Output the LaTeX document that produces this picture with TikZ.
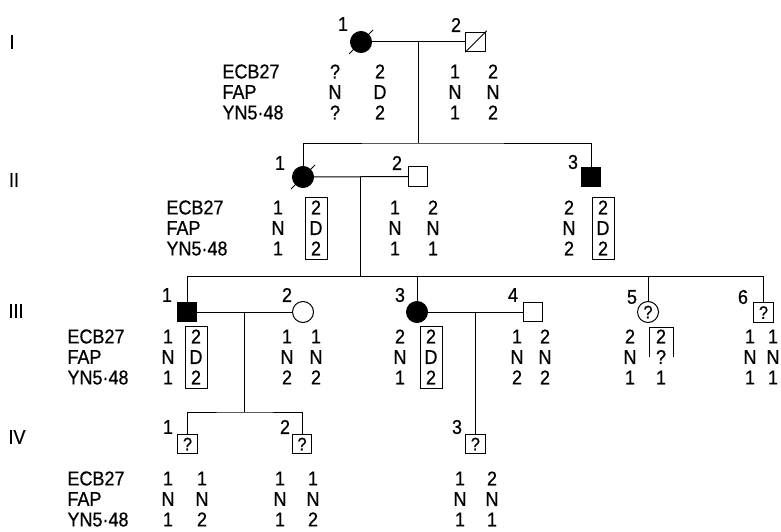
\documentclass[tikz,border=0pt]{standalone}
\usepackage{fontspec}
\setmainfont{Liberation Sans}[FakeStretch=0.9, FakeBold=0.6]
\usetikzlibrary{positioning,calc}

\begin{document}
\begin{tikzpicture}[
  x=1pt, y=-1pt, line width=1pt,
  every node/.style={font=\fontsize{20}{20.5}\selectfont},
  male/.style={draw, rectangle, minimum size=19.5pt, inner sep=0pt},
  female/.style={draw, circle, minimum size=21pt, inner sep=0pt},
  aff/.style={fill=black},
  unk/.style={font=\fontsize{18}{18}\selectfont},
  num/.style={inner sep=0pt},
  gen/.style={inner sep=0pt},
  locus/.style={align=left, anchor=west, inner sep=0pt},
  col/.style={align=center, inner sep=0pt},
  boxed/.style={col, draw, line width=0.9pt, inner xsep=4.5pt, inner ysep=3.5pt},
  dead/.style={line width=0.9pt}
]
\useasboundingbox (0,0) rectangle (781,532);

% generation labels
\node[gen] (gI) at (12,42) {I};
\node[gen] (gII) at (14,180) {II};
\node[gen] (gIII) at (16,311) {III};
\node[gen] (gIV) at (17,437) {IV};

% generation I
\node[female, aff] (i1) at (361,42) {};
\node[male] (i2) at (475.5,42) {};
\node[num] (ni1) at (343,24) {1};
\node[num] (ni2) at (456,25) {2};
\draw[dead] ($(i1)+(-12,12)$) -- ($(i1)+(12,-12)$);
\draw[dead] (i2.south west) -- ($(i2.north east)+(1,-1)$);
\draw (i1) -- (i2);
\coordinate (m1) at ($(i1.east)!0.5!(i2.west)$);
\coordinate (sib2) at ($(m1)+(0,101)$);

% generation II
\node[female, aff] (ii1) at (303,177) {};
\node[male] (ii2) at (418,176.5) {};
\node[male, aff] (ii3) at (591,177) {};
\node[num] (nii1) at (280,163) {1};
\node[num] (nii2) at (397,163) {2};
\node[num] (nii3) at (573,162) {3};
\draw[dead] ($(ii1)+(-12,12)$) -- ($(ii1)+(12,-12)$);
\draw (m1) -- (sib2);
\draw (ii1.north) |- (sib2) -| (ii3.north);
\draw (ii1) -- (ii2);
\coordinate (m2) at ($(ii1.east)!0.5!(ii2.west)$);
\coordinate (sib3) at ($(m2)+(0,100)$);

% generation III
\node[male, aff] (iii1) at (187,312) {};
\node[female] (iii2) at (303,312) {};
\node[female, aff] (iii3) at (417,312) {};
\node[male] (iii4) at (533,312) {};
\node[female, unk] (iii5) at (648,312) {?};
\node[male, unk] (iii6) at (763.5,312.5) {?};
\node[num] (niii1) at (167,295) {1};
\node[num] (niii2) at (287,295) {2};
\node[num] (niii3) at (400,295) {3};
\node[num] (niii4) at (513,295) {4};
\node[num] (niii5) at (632,297) {5};
\node[num] (niii6) at (743,297) {6};
\draw (m2) -- (sib3);
\draw (iii1.north) |- (sib3) -| (iii6.north);
\draw (iii3.north) -- (iii3.north |- sib3);
\draw (iii5.north) -- (iii5.north |- sib3);
\draw (iii1) -- (iii2);
\draw (iii3) -- (iii4);
\coordinate (m3) at ($(iii1.east)!0.5!(iii2.west)$);
\coordinate (m4) at ($(iii3.east)!0.5!(iii4.west)$);
\coordinate (sib4) at ($(m3)+(0,100)$);

% generation IV
\node[male, unk] (iv1) at (187.5,444) {?};
\node[male, unk] (iv2) at (302,444) {?};
\node[male, unk] (iv3) at (m4 |- iv1) {?};
\node[num] (niv1) at (168,427) {1};
\node[num] (niv2) at (285,427) {2};
\node[num] (niv3) at (457,427) {3};
\draw (m3) -- (sib4);
\draw (iv1.north) |- (sib4) -| (iv2.north);
\draw (m4) -- (iv3);

% haplotypes
\node[locus] (li) at (222,92) {ECB27\\FAP\\YN5·48};
\node[col] (ai1a) at (335,92) {?\\N\\?};
\node[col] (ai1b) at (380,92) {2\\D\\2};
\node[col] (ai2a) at (455,92) {1\\N\\1};
\node[col] (ai2b) at (493,92) {2\\N\\2};

\node[locus] (lii) at (166,228) {ECB27\\FAP\\YN5·48};
\node[col] (aii1a) at (278,228) {1\\N\\1};
\node[boxed] (aii1b) at (316,228) {2\\D\\2};
\node[col] (aii2a) at (395,228) {1\\N\\1};
\node[col] (aii2b) at (433,228) {2\\N\\1};
\node[col] (aii3a) at (569,228) {2\\N\\2};
\node[boxed] (aii3b) at (603,228) {2\\D\\2};

\node[locus] (liii) at (67,357) {ECB27\\FAP\\YN5·48};
\node[col] (aiii1a) at (168,357) {1\\N\\1};
\node[boxed] (aiii1b) at (196,357) {2\\D\\2};
\node[col] (aiii2a) at (287,357) {1\\N\\2};
\node[col] (aiii2b) at (316,357) {1\\N\\2};
\node[col] (aiii3a) at (400,357) {2\\N\\1};
\node[boxed] (aiii3b) at (431,357) {2\\D\\2};
\node[col] (aiii4a) at (517,357) {1\\N\\2};
\node[col] (aiii4b) at (545,357) {2\\N\\2};
\node[col] (aiii5a) at (630,357) {2\\N\\1};
\node[col] (aiii5b) at (661,357) {2\\?\\1};
\node[col] (aiii6a) at (750,357) {1\\N\\1};
\node[col] (aiii6b) at (773,357) {1\\N\\1};
\draw[line width=0.9pt] ($(aiii5b.north)+(-12,28)$) |- ($(aiii5b.north)+(12,-2)$) -- ++(0,30);

\node[locus] (liv) at (67,499) {ECB27\\FAP\\YN5·48};
\node[col] (aiv1a) at (168,499) {1\\N\\1};
\node[col] (aiv1b) at (202,499) {1\\N\\2};
\node[col] (aiv2a) at (280,499) {1\\N\\1};
\node[col] (aiv2b) at (313,499) {1\\N\\2};
\node[col] (aiv3a) at (460,499) {1\\N\\1};
\node[col] (aiv3b) at (492,499) {2\\N\\1};
\end{tikzpicture}
\end{document}
